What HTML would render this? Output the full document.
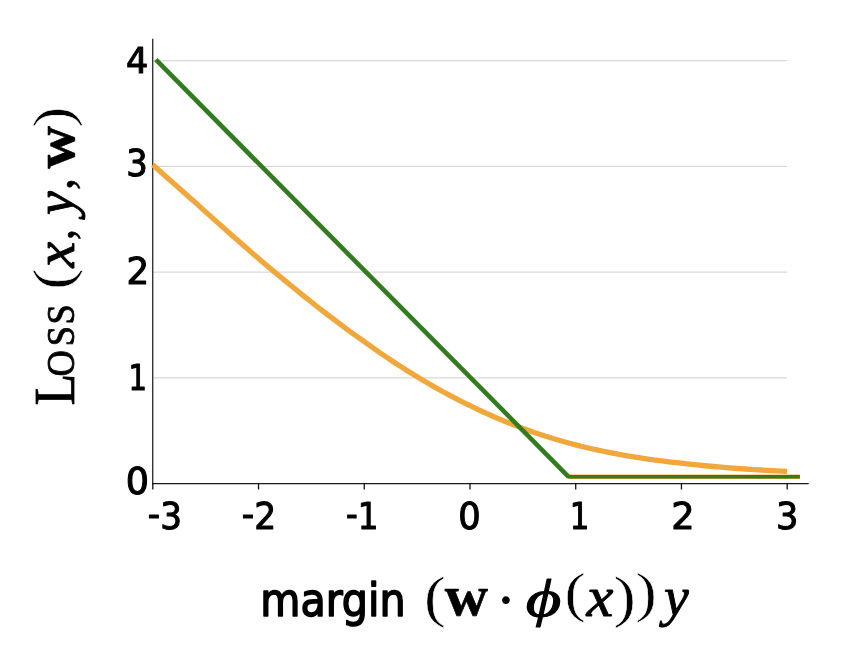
<!DOCTYPE html>
<html lang="en"><head><meta charset="utf-8"><title>Loss vs margin</title>
<style>
html,body{margin:0;padding:0;background:#fff}
svg{display:block;will-change:transform}
text{white-space:pre}
</style></head><body>
<svg width="850" height="664" viewBox="0 0 850 664">
<rect width="850" height="664" fill="#fff"/>
<line x1="153" x2="786.9" y1="377.78" y2="377.78" stroke="#d9d9d9" stroke-width="1.2"/>
<line x1="153" x2="786.9" y1="272.06" y2="272.06" stroke="#d9d9d9" stroke-width="1.2"/>
<line x1="153" x2="786.9" y1="166.34" y2="166.34" stroke="#d9d9d9" stroke-width="1.2"/>
<line x1="153" x2="786.9" y1="60.62" y2="60.62" stroke="#d9d9d9" stroke-width="1.2"/>
<line x1="152.7" x2="152.7" y1="38.8" y2="484" stroke="#363636" stroke-width="1.4"/>
<line x1="152" x2="808.7" y1="483.55" y2="483.55" stroke="#1a1a1a" stroke-width="1.15"/>
<line x1="152.80" x2="152.80" y1="483.5" y2="489.5" stroke="#111" stroke-width="1.3"/>
<line x1="258.53" x2="258.53" y1="483.5" y2="489.5" stroke="#111" stroke-width="1.3"/>
<line x1="364.26" x2="364.26" y1="483.5" y2="489.5" stroke="#111" stroke-width="1.3"/>
<line x1="469.99" x2="469.99" y1="483.5" y2="489.5" stroke="#111" stroke-width="1.3"/>
<line x1="575.72" x2="575.72" y1="483.5" y2="489.5" stroke="#111" stroke-width="1.3"/>
<line x1="681.45" x2="681.45" y1="483.5" y2="489.5" stroke="#111" stroke-width="1.3"/>
<line x1="787.18" x2="787.18" y1="483.5" y2="489.5" stroke="#111" stroke-width="1.3"/>
<path d="M152.80 164.69 L158.09 169.44 L163.37 174.18 L168.66 178.91 L173.95 183.62 L179.23 188.32 L184.52 193.00 L189.81 197.67 L195.09 202.32 L200.38 207.11 L205.67 211.88 L210.95 216.63 L216.24 221.37 L221.52 226.08 L226.81 230.77 L232.10 235.44 L237.38 240.09 L242.67 244.71 L247.96 249.31 L253.24 253.88 L258.53 258.43 L263.82 262.93 L269.10 267.41 L274.39 271.86 L279.68 276.27 L284.96 280.65 L290.25 285.00 L295.54 289.32 L300.82 293.60 L306.11 297.84 L311.39 302.04 L316.68 306.21 L321.97 310.33 L327.25 314.41 L332.54 318.45 L337.83 322.44 L343.11 326.39 L348.40 330.29 L353.69 334.15 L358.97 337.95 L364.26 341.70 L369.55 345.46 L374.83 349.17 L380.12 352.82 L385.41 356.41 L390.69 359.95 L395.98 363.44 L401.27 366.86 L406.55 370.22 L411.84 373.53 L417.12 376.77 L422.41 379.95 L427.70 383.06 L432.98 386.12 L438.27 389.11 L443.56 392.03 L448.84 394.89 L454.13 397.69 L459.42 400.42 L464.70 403.08 L469.99 405.67 L475.28 408.24 L480.56 410.73 L485.85 413.16 L491.14 415.53 L496.42 417.83 L501.71 420.06 L507.00 422.23 L512.28 424.34 L517.57 426.38 L522.86 428.36 L528.14 430.28 L533.43 432.13 L538.71 433.93 L544.00 435.66 L549.29 437.34 L554.57 438.96 L559.86 440.52 L565.15 442.03 L570.43 443.48 L575.72 444.88 L581.01 446.21 L586.29 447.49 L591.58 448.71 L596.87 449.89 L602.15 451.03 L607.44 452.11 L612.73 453.15 L618.01 454.15 L623.30 455.11 L628.59 456.02 L633.87 456.90 L639.16 457.74 L644.44 458.54 L649.73 459.30 L655.02 460.03 L660.30 460.73 L665.59 461.40 L670.88 462.03 L676.16 462.63 L681.45 463.21 L686.74 463.82 L692.02 464.40 L697.31 464.96 L702.60 465.50 L707.88 466.01 L713.17 466.50 L718.46 466.96 L723.74 467.41 L729.03 467.83 L734.32 468.24 L739.60 468.62 L744.89 468.99 L750.17 469.34 L755.46 469.68 L760.75 470.00 L766.03 470.30 L771.32 470.59 L776.61 470.87 L781.89 471.13 L787.18 471.39" fill="none" stroke="#f0a83c" stroke-width="5.3" stroke-linejoin="round"/>
<path d="M568.3 476.75 L799.9 476.75" fill="none" stroke="#f0a83c" stroke-width="4.3"/>
<path d="M155.9 59.7 L568.6 476.8" fill="none" stroke="#327c1f" stroke-width="4.6"/>
<path d="M567.6 476.75 L799.9 476.75" fill="none" stroke="#327c1f" stroke-width="3.5"/>
<text transform="translate(125.99 73.10) scale(1.0705 1)" style="font-family:'DejaVu Sans Condensed','DejaVu Sans',sans-serif;font-stretch:condensed;font-size:36.35px" fill="#000" stroke="#000" stroke-width="1.0" stroke-linejoin="round">4</text>
<text transform="translate(126.35 176.19) scale(1.0235 1)" style="font-family:'DejaVu Sans Condensed','DejaVu Sans',sans-serif;font-stretch:condensed;font-size:36.64px" fill="#000" stroke="#000" stroke-width="1.0" stroke-linejoin="round">3</text>
<text transform="translate(126.58 284.00) scale(1.0860 1)" style="font-family:'DejaVu Sans Condensed','DejaVu Sans',sans-serif;font-stretch:condensed;font-size:36.52px" fill="#000" stroke="#000" stroke-width="1.0" stroke-linejoin="round">2</text>
<text transform="translate(128.41 390.00) scale(0.8865 1)" style="font-family:'DejaVu Sans Condensed','DejaVu Sans',sans-serif;font-stretch:condensed;font-size:36.35px" fill="#000" stroke="#000" stroke-width="1.0" stroke-linejoin="round">1</text>
<text transform="translate(125.86 494.48) scale(1.0928 1)" style="font-family:'DejaVu Sans Condensed','DejaVu Sans',sans-serif;font-stretch:condensed;font-size:37.17px" fill="#000" stroke="#000" stroke-width="1.0" stroke-linejoin="round">0</text>
<text transform="translate(147.83 529.38) scale(1.0268 1)" style="font-family:'DejaVu Sans Condensed','DejaVu Sans',sans-serif;font-stretch:condensed;font-size:37.04px" fill="#000" stroke="#000" stroke-width="1.0" stroke-linejoin="round"><tspan dy="-2.3">-</tspan><tspan dy="2.3">3</tspan></text>
<text transform="translate(241.71 529.30) scale(1.0361 1)" style="font-family:'DejaVu Sans Condensed','DejaVu Sans',sans-serif;font-stretch:condensed;font-size:37.06px" fill="#000" stroke="#000" stroke-width="1.0" stroke-linejoin="round"><tspan dy="-2.3">-</tspan><tspan dy="2.3">2</tspan></text>
<text transform="translate(345.91 529.30) scale(0.9807 1)" style="font-family:'DejaVu Sans Condensed','DejaVu Sans',sans-serif;font-stretch:condensed;font-size:36.90px" fill="#000" stroke="#000" stroke-width="1.0" stroke-linejoin="round"><tspan dy="-2.3">-</tspan><tspan dy="2.3">1</tspan></text>
<text transform="translate(458.14 529.48) scale(1.0534 1)" style="font-family:'DejaVu Sans Condensed','DejaVu Sans',sans-serif;font-stretch:condensed;font-size:37.30px" fill="#000" stroke="#000" stroke-width="1.0" stroke-linejoin="round">0</text>
<text transform="translate(569.71 529.30) scale(0.9288 1)" style="font-family:'DejaVu Sans Condensed','DejaVu Sans',sans-serif;font-stretch:condensed;font-size:36.90px" fill="#000" stroke="#000" stroke-width="1.0" stroke-linejoin="round">1</text>
<text transform="translate(671.30 529.30) scale(1.1026 1)" style="font-family:'DejaVu Sans Condensed','DejaVu Sans',sans-serif;font-stretch:condensed;font-size:37.06px" fill="#000" stroke="#000" stroke-width="1.0" stroke-linejoin="round">2</text>
<text transform="translate(776.04 529.48) scale(1.0488 1)" style="font-family:'DejaVu Sans Condensed','DejaVu Sans',sans-serif;font-stretch:condensed;font-size:37.30px" fill="#000" stroke="#000" stroke-width="1.0" stroke-linejoin="round">3</text>
<text transform="translate(260.29 615.96) scale(0.9838 1)" style="font-family:'DejaVu Sans Condensed','DejaVu Sans',sans-serif;font-stretch:condensed;font-size:46.59px" fill="#000" stroke="#000" stroke-width="1.5" stroke-linejoin="round">margin</text>
<text transform="translate(423.92 616.05) scale(1.1648 1)" style="font-family:'Liberation Serif',serif;font-size:56.12px" fill="#000" stroke="#fff" stroke-width="0.5">(</text>
<text transform="translate(444.72 615.43) scale(1.0490 1)" style="font-family:'Liberation Serif',serif;font-weight:bold;font-size:57.14px" fill="#000" stroke="#000" stroke-width="0.6" stroke-linejoin="round">w</text>
<text transform="translate(494.89 621.98) scale(0.9916 1)" style="font-family:'Liberation Serif',serif;font-size:66.10px" fill="#000">·</text>
<text transform="translate(525.72 615.53) scale(1.2958 1)" style="font-family:'Liberation Serif',serif;font-style:italic;font-size:52.92px" fill="#000" stroke="#000" stroke-width="1.0" stroke-linejoin="round">ϕ</text>
<text transform="translate(564.51 611.16) scale(1.1505 1)" style="font-family:'Liberation Serif',serif;font-size:55.13px" fill="#000" stroke="#fff" stroke-width="0.5">(</text>
<text transform="translate(586.48 616.05) scale(1.0493 1)" style="font-family:'Liberation Serif',serif;font-style:italic;font-size:57.73px" fill="#000" stroke="#000" stroke-width="0.9" stroke-linejoin="round">x</text>
<text transform="translate(613.55 616.02) scale(1.1972 1)" style="font-family:'Liberation Serif',serif;font-size:56.23px" fill="#000" stroke="#fff" stroke-width="0.5">)</text>
<text transform="translate(635.56 611.16) scale(1.1576 1)" style="font-family:'Liberation Serif',serif;font-size:55.13px" fill="#000" stroke="#fff" stroke-width="0.5">)</text>
<text transform="translate(663.88 615.41) scale(1.0096 1)" style="font-family:'Liberation Serif',serif;font-style:italic;font-size:55.26px" fill="#000" stroke="#000" stroke-width="0.9" stroke-linejoin="round">y</text>
<g transform="translate(0 403) rotate(-90)">
<text x="-2.80 28.94 61.59 85.45" y="73.8" transform="scale(0.92 1)" style="font-family:'Liberation Serif',serif;font-variant:small-caps;font-size:56.68px" fill="#000" stroke="#000" stroke-width="0.8">Loss</text>
<text transform="translate(113.44 71.30) scale(1.1410 1)" style="font-family:'Liberation Serif',serif;font-size:54.91px" fill="#000" stroke="#fff" stroke-width="0.5">(</text>
<text transform="translate(135.45 73.85) scale(1.0382 1)" style="font-family:'Liberation Serif',serif;font-style:italic;font-size:55.99px" fill="#000" stroke="#000" stroke-width="0.9" stroke-linejoin="round">x</text>
<text transform="translate(162.84 72.50) scale(0.9172 1)" style="font-family:'Liberation Serif',serif;font-size:49.03px" fill="#000" stroke="#000" stroke-width="0.5" stroke-linejoin="round">,</text>
<text transform="translate(188.08 72.97) scale(0.9861 1)" style="font-family:'Liberation Serif',serif;font-style:italic;font-size:54.07px" fill="#000" stroke="#000" stroke-width="0.9" stroke-linejoin="round">y</text>
<text transform="translate(213.04 72.38) scale(0.9567 1)" style="font-family:'Liberation Serif',serif;font-size:49.81px" fill="#000" stroke="#000" stroke-width="0.5" stroke-linejoin="round">,</text>
<text transform="translate(234.62 73.63) scale(1.0319 1)" style="font-family:'Liberation Serif',serif;font-weight:bold;font-size:57.14px" fill="#000" stroke="#000" stroke-width="0.6" stroke-linejoin="round">w</text>
<text transform="translate(275.61 71.30) scale(1.1339 1)" style="font-family:'Liberation Serif',serif;font-size:54.91px" fill="#000" stroke="#fff" stroke-width="0.5">)</text>
</g>
</svg></body></html>
